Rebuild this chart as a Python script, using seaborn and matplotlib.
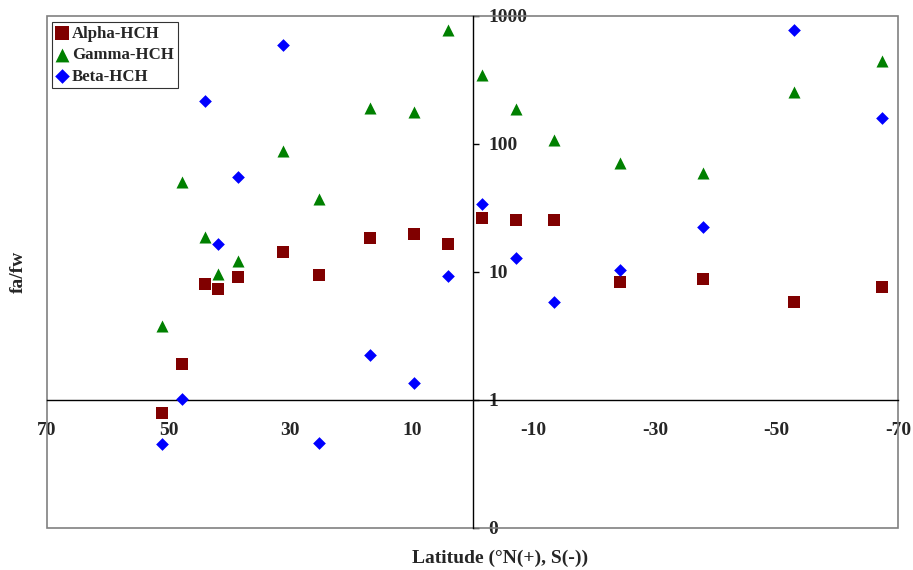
import matplotlib
matplotlib.use("Agg")
import matplotlib.pyplot as plt
import seaborn as sns
import pandas as pd
from matplotlib.patches import Rectangle
from matplotlib.ticker import FixedLocator, FixedFormatter

# ---- data ----
lat = [51.1, 47.8, 44.0, 41.9, 38.6, 31.2, 25.3, 16.9, 9.6, 4.0,
       -1.6, -7.2, -13.4, -24.3, -37.9, -52.9, -67.4]
alpha_hch = [0.79, 1.91, 8.06, 7.36, 9.14, 14.3, 9.48, 18.4, 19.8, 16.5,
             26.4, 25.5, 25.5, 8.35, 8.82, 5.83, 7.64]
gamma_hch = [3.79, 50.5, 18.8, 9.65, 12.2, 88.0, 37.2, 191, 178, 777,
             346, 188, 107, 71, 59, 255, 445]
beta_hch = [0.45, 1.02, 217, 16.5, 55, 593, 0.46, 2.25, 1.36, 9.3,
            34, 12.9, 5.83, 10.4, 22.5, 778, 160]
series_names = ["Alpha-HCH", "Gamma-HCH", "Beta-HCH"]
x_ticks = [70, 50, 30, 10, -10, -30, -50, -70]
y_ticks = [0.1, 1, 10, 100, 1000]
y_tick_labels = ["0", "1", "10", "100", "1000"]

sns.set_style("white")
plt.rcParams["font.family"] = ["Liberation Serif", "DejaVu Serif"]
plt.rcParams["font.weight"] = "bold"

fig = plt.figure(figsize=(9.13, 5.70), dpi=100)
ax = fig.add_axes([47 / 913, 1 - 528 / 570, 851 / 913, 512 / 570])

df = pd.DataFrame({"lat": lat, "Alpha-HCH": alpha_hch,
                   "Gamma-HCH": gamma_hch, "Beta-HCH": beta_hch})
styles = {
    "Alpha-HCH": dict(color="#800000", marker="s", s=80),
    "Gamma-HCH": dict(color="#008000", marker="^", s=75),
    "Beta-HCH": dict(color="#0000FF", marker="D", s=42),
}
for name in series_names:
    st = styles[name]
    sns.scatterplot(data=df, x="lat", y=name, ax=ax, color=st["color"],
                    marker=st["marker"], s=st["s"], linewidth=0,
                    label=name, zorder=3, clip_on=False)

ax.set_yscale("log")
ax.set_xlim(70, -70)
ax.set_ylim(0.1, 1000)

# axes lines crossing at x=0 and y=1
for sp in ["left", "top"]:
    ax.spines[sp].set_visible(False)
ax.spines["bottom"].set_position(("data", 1))
ax.spines["bottom"].set_color("black")
ax.spines["bottom"].set_linewidth(1.0)
ax.spines["right"].set_position(("data", 0))
ax.spines["right"].set_color("black")
ax.spines["right"].set_linewidth(1.0)
ax.spines["right"].set_visible(True)
ax.spines["bottom"].set_visible(True)

ax.yaxis.tick_right()
ax.yaxis.set_major_locator(FixedLocator(y_ticks))
ax.yaxis.set_major_formatter(FixedFormatter(y_tick_labels))
ax.yaxis.set_minor_locator(FixedLocator([]))
ax.tick_params(axis="y", which="major", direction="out", length=4.5,
               width=1, color="black", pad=7, labelsize=14)
ax.set_xticks(x_ticks)
ax.set_xticklabels([str(v) for v in x_ticks])
ax.tick_params(axis="x", which="major", direction="out", length=4.5,
               width=1, color="black", pad=11.5, labelsize=14)
for t in ax.get_xticklabels() + ax.get_yticklabels():
    t.set_fontweight("bold")

ax.set_xlabel("")
ax.set_ylabel("")

# outer gray frame
ax.add_patch(Rectangle((0, 0), 1, 1, transform=ax.transAxes, fill=False,
                       edgecolor="#808080", linewidth=1.2, clip_on=False,
                       zorder=1))

fig.text(500 / 913, 1 - 558 / 570, "Latitude (°N(+), S(-))", ha="center",
         va="center", fontsize=14, fontweight="bold")
fig.text(18 / 913, 1 - 272 / 570, "fa/fw", ha="center", va="center",
         rotation=90, fontsize=14, fontweight="bold")

leg = ax.legend(loc="upper left", bbox_to_anchor=(0.006, 0.988),
                borderaxespad=0, frameon=True, fancybox=False,
                prop={"weight": "bold", "size": 12.1}, handlelength=0.75,
                handletextpad=0.22, borderpad=0.22, labelspacing=0.32,
                markerscale=1.15)
leg.get_frame().set_edgecolor("black")
leg.get_frame().set_linewidth(0.8)

fig.savefig("out.png", dpi=100)
